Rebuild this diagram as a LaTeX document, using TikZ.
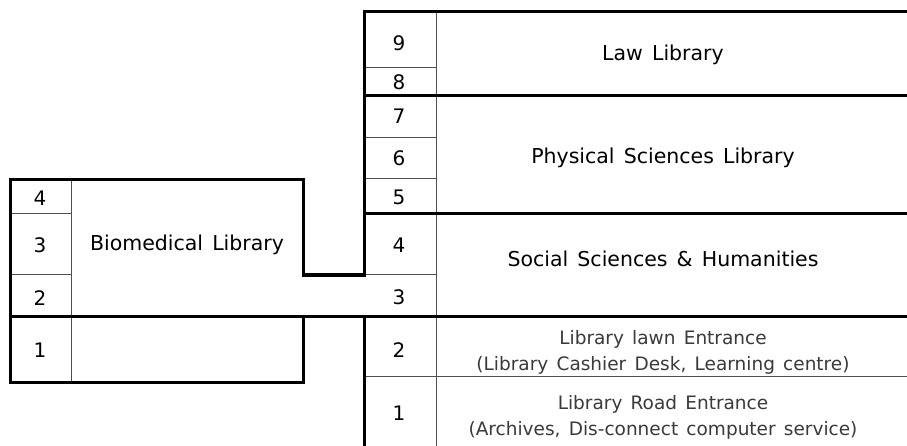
\documentclass[tikz,border=0pt]{standalone}
\usepackage{fontspec}
\setmainfont{DejaVu Sans}[WordSpace=1.4]
\definecolor{thinline}{HTML}{505050}
\definecolor{softtext}{HTML}{3A3A3A}
\tikzset{
  thick wall/.style={line width=3pt, black, line cap=rect, line join=miter},
  thin wall/.style={line width=1pt, thinline},
  num/.style={font=\fontsize{20}{20}\selectfont, inner sep=0pt, anchor=center},
  lib/.style={font=\fontsize{20.5}{20.5}\selectfont, inner sep=0pt, anchor=center},
  entr/.style={font=\fontsize{18.5}{26}\selectfont, text=softtext, align=center, inner sep=0pt, anchor=center}
}
\begin{document}
\begin{tikzpicture}[x=1pt, y=-1pt]
\useasboundingbox (0,0) rectangle (907,446);
\fill[white] (0,0) rectangle (907,446);

% thin dividers
\draw[thin wall] (436,12) -- (436,446);
\draw[thin wall] (71,180) -- (71,382);
\draw[thin wall] (364,68) -- (436,68);
\draw[thin wall] (364,138) -- (436,138);
\draw[thin wall] (364,179) -- (436,179);
\draw[thin wall] (364,275) -- (436,275);
\draw[thin wall] (364,376) -- (907,376);
\draw[thin wall] (10,214) -- (71,214);
\draw[thin wall] (10,275) -- (71,275);

% thick walls
\draw[thick wall] (10,316) -- (10,180) -- (303,180) -- (303,275) -- (364,275) -- (364,12) -- (910,12);
\draw[thick wall] (364,96) -- (910,96);
\draw[thick wall] (364,214) -- (910,214);
\draw[thick wall] (10,316) -- (910,316);
\draw[thick wall] (10,316) -- (10,382) -- (303,382) -- (303,316);
\draw[thick wall] (364,316) -- (364,450);

% right tower numbers
\node[num] (r9) at (399,43) {9};
\node[num] (r8) at (399,82) {8};
\node[num] (r7) at (399,116) {7};
\node[num] (r6) at (399,158) {6};
\node[num] (r5) at (399,197) {5};
\node[num] (r4) at (399,245) {4};
\node[num] (r3) at (399,297) {3};
\node[num] (r2) at (399,350) {2};
\node[num] (r1) at (399,413) {1};

% left block numbers
\node[num] (l4) at (40,198) {4};
\node[num] (l3) at (40,245) {3};
\node[num] (l2) at (40,298) {2};
\node[num] (l1) at (40,350) {1};

% library names
\node[lib] (law) at (663,55) {Law Library};
\node[lib] (phys) at (663,158) {Physical Sciences Library};
\node[lib] (soc) at (663,259) {Social Sciences \& Humanities};
\node[lib] (bio) at (187,245) {Biomedical Library};
\node[entr] (lawn) at (663,352) {Library lawn Entrance\\(Library Cashier Desk, Learning centre)};
\node[entr] (road) at (663,417) {Library Road Entrance\\(Archives, Dis-connect computer service)};
\end{tikzpicture}
\end{document}
